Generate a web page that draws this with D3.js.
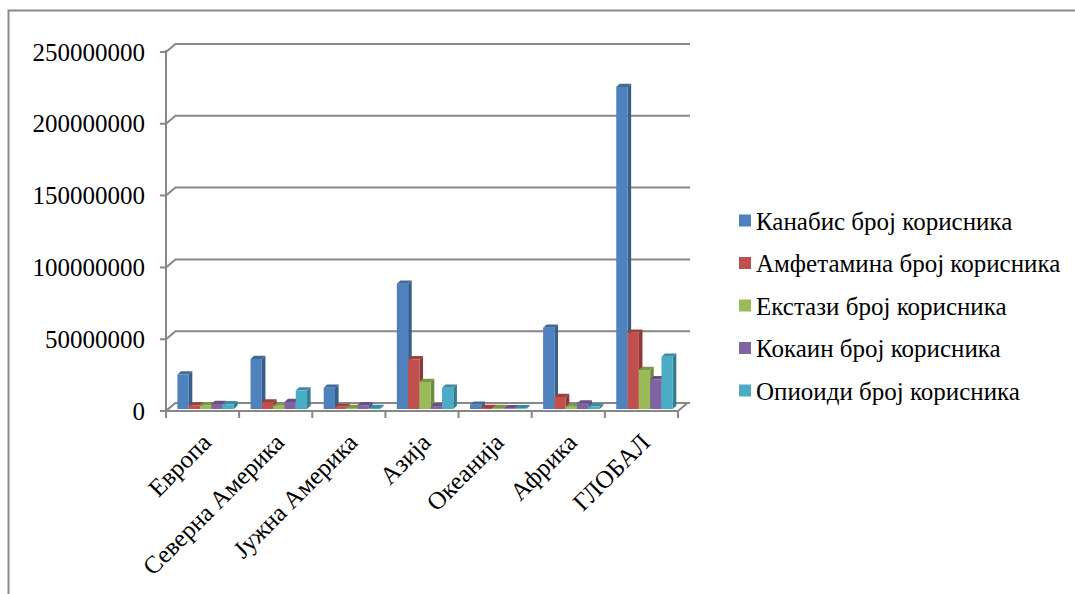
<!DOCTYPE html>
<html>
<head>
<meta charset="utf-8">
<script src="https://cdn.jsdelivr.net/npm/d3@7/dist/d3.min.js"></script>
<style>
  html, body { margin: 0; padding: 0; background: #fff; }
</style>
</head>
<body>
<svg id="chart" width="1075" height="594"></svg>
<script>
const categories = ["Европа", "Северна Америка", "Јужна Америка", "Азија", "Океанија", "Африка", "ГЛОБАЛ"];
const seriesNames = ["Канабис број корисника", "Амфетамина број корисника", "Екстази број корисника", "Кокаин број корисника", "Опиоиди број корисника"];
const cannabis    = [24000000, 34800000, 14800000, 87300000, 3000000, 56600000, 224300000];
const amphetamine = [2500000, 4600000, 1500000, 34600000, 700000, 8400000, 53100000];
const ecstasy     = [2500000, 2200000, 700000, 18800000, 700000, 1600000, 27200000];
const cocaine     = [3500000, 4900000, 2700000, 2000000, 500000, 3800000, 20700000];
const opioids     = [3300000, 13000000, 700000, 14800000, 500000, 1700000, 36400000];
const yTicks = [0, 50000000, 100000000, 150000000, 200000000, 250000000];
const colors = ["#4F81BD", "#C0504D", "#9BBB59", "#8064A2", "#4BACC6"];

const seriesValues = [cannabis, amphetamine, ecstasy, cocaine, opioids];
const FONT = "'Liberation Serif', 'Times New Roman', serif";

const svg = d3.select("#chart");

// outer frame
svg.append("rect").attr("x", 8.5).attr("y", 10.5).attr("width", 1100).attr("height", 620)
  .attr("fill", "none").attr("stroke", "#8a8a8a").attr("stroke-width", 2);

const yFront = d3.scaleLinear().domain([0, 250000000]).range([411, 52]);
const x = d3.scaleBand().domain(categories).range([166, 678]).padding(0);
const xs = d3.scaleBand().domain(d3.range(seriesNames.length)).range([9, 65.5]).padding(0);

const depthX = 9.5, depthY = 8;     // floor depth vector
const barOffX = 2.4, barOffY = 2;   // bars placed slightly behind front edge
const bdx = 3.6, bdy = 3.2;         // bar depth

const grid = "#878787";

// back wall gridlines with diagonal connectors
const gAxis = svg.append("g");
yTicks.forEach(t => {
  const yf = yFront(t);
  gAxis.append("path")
    .attr("d", `M160,${yf} L166,${yf} L${166 + depthX},${yf - depthY} L690,${yf - depthY}`)
    .attr("fill", "none").attr("stroke", grid).attr("stroke-width", 2);
});

// front-left vertical axis line
gAxis.append("line").attr("x1", 166).attr("x2", 166).attr("y1", 50).attr("y2", 418)
  .attr("stroke", grid).attr("stroke-width", 2);

// y tick labels via d3 axis
const yAxis = d3.axisLeft(yFront).tickValues(yTicks).tickSize(0).tickPadding(21).tickFormat(d => String(d));
const gy = svg.append("g").attr("transform", "translate(166,0)").call(yAxis)
  .attr("font-family", null).attr("font-size", null);
gy.select(".domain").remove();
gy.selectAll("text").style("font-family", FONT).style("font-size", "25px").attr("fill", "#000");

// floor
const x0 = x.range()[0], x1 = x.range()[1];
const yf0 = yFront(0);
svg.append("path")
  .attr("d", `M${x0},${yf0} L${x1},${yf0} L${x1 + depthX},${yf0 - depthY} L${x0 + depthX},${yf0 - depthY} Z`)
  .attr("fill", "#fff").attr("stroke", grid).attr("stroke-width", 2);

// category ticks at band boundaries
const bounds = categories.map(c => x(c)).concat([x1]);
svg.append("g").selectAll("line").data(bounds).join("line")
  .attr("x1", d => d).attr("x2", d => d).attr("y1", yf0).attr("y2", yf0 + 7)
  .attr("stroke", grid).attr("stroke-width", 2);

// bars
const yBar = v => yFront(v) - barOffY;
const gBars = svg.append("g");
categories.forEach((cat, ci) => {
  seriesValues.forEach((vals, si) => {
    const v = vals[ci];
    const bx = x(cat) + barOffX + xs(si);
    const w = xs.bandwidth();
    const yt = yBar(v), yb = yBar(0);
    const base = d3.color(colors[si]);
    const g = gBars.append("g");
    g.append("path")
      .attr("d", `M${bx + w},${yt} L${bx + w + bdx},${yt - bdy} L${bx + w + bdx},${yb - bdy} L${bx + w},${yb} Z`)
      .attr("fill", base.darker(0.9));
    g.append("path")
      .attr("d", `M${bx},${yt} L${bx + bdx},${yt - bdy} L${bx + w + bdx},${yt - bdy} L${bx + w},${yt} Z`)
      .attr("fill", base.darker(0.6));
    g.append("rect").attr("x", bx).attr("y", yt).attr("width", w).attr("height", Math.max(0, yb - yt))
      .attr("fill", base);
  });
});

// category labels rotated
const gx = svg.append("g");
categories.forEach(cat => {
  const cx = x(cat) + x.bandwidth() / 2 + 10;
  gx.append("text")
    .attr("transform", `translate(${cx},${yf0 + 33}) rotate(-45)`)
    .attr("text-anchor", "end")
    .style("font-family", FONT)
    .style("font-size", "25px")
    .text(cat);
});

// legend
const legend = svg.append("g");
const legY = [221, 263.5, 306, 348.5, 391];
seriesNames.forEach((name, i) => {
  legend.append("rect").attr("x", 739).attr("y", legY[i] - 6.5).attr("width", 12).attr("height", 12)
    .attr("fill", colors[i]);
  legend.append("text").attr("x", 756).attr("y", legY[i]).attr("dy", "0.35em")
    .style("font-family", FONT)
    .style("font-size", "25px").text(name);
});
</script>
</body>
</html>
